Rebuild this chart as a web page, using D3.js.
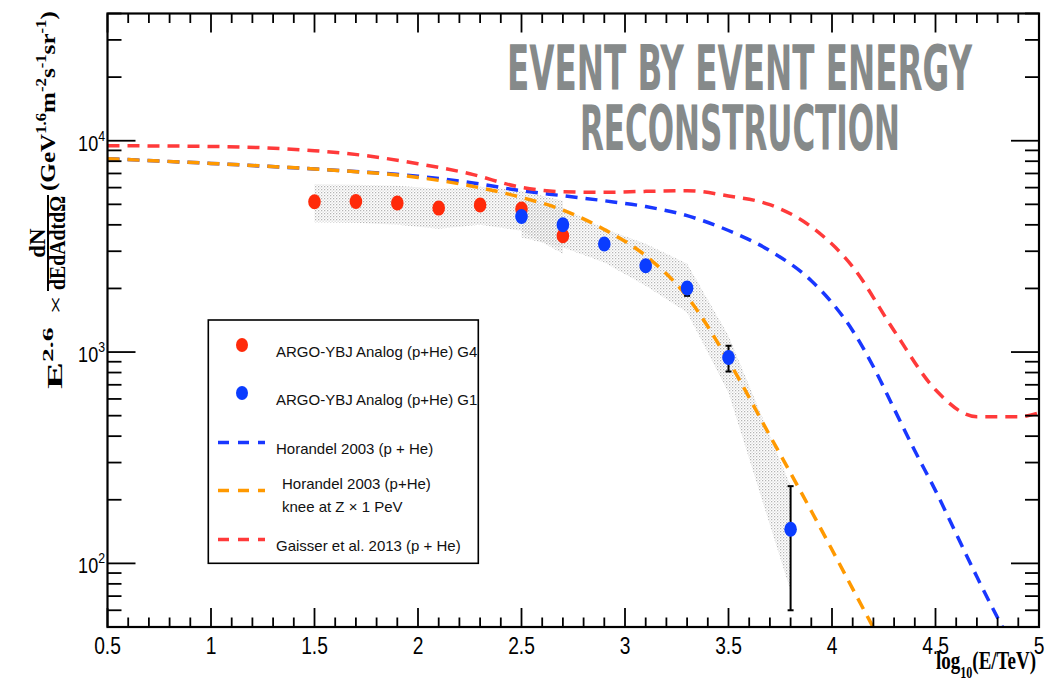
<!DOCTYPE html>
<html lang="en">
<head>
<meta charset="UTF-8" />
<title>Event by event energy reconstruction</title>
<script src="https://cdn.jsdelivr.net/npm/d3@7"></script>
<style>
  body { margin: 0; background: #fff; }
  svg { display: block; }
  .tick-x { font-family: "Liberation Sans", Arial, sans-serif; font-size: 24px; fill: #000; }
  .tick-y { font-family: "Liberation Sans", Arial, sans-serif; font-size: 22px; fill: #000; }
  .serif { font-family: "Liberation Serif", "Times New Roman", serif; font-weight: bold; fill: #000; }
  .leg { font-family: "Liberation Sans", Arial, sans-serif; font-size: 15px; fill: #111; }
  .title { font-family: "Liberation Sans Narrow", "DejaVu Sans Condensed", sans-serif; font-weight: bold; font-size: 62px; fill: #868a8a; }
</style>
</head>
<body>
<div id="chart"></div>
<script>
// ---- data (x = log10(E/TeV), y = E^2.6 flux) ----
const g4Energy = [1.5, 1.7, 1.9, 2.1, 2.3, 2.5, 2.7];
const g4Flux = [5143, 5160, 5072, 4800, 4962, 4749, 3551];
const g4BandUp = [6226, 6193, 6125, 5926, 6059, 5799, 5200];
const g4BandLow = [4115, 4092, 4004, 3832, 4004, 3750, 2919];

const g1Energy = [2.5, 2.7, 2.9, 3.1, 3.3, 3.5, 3.8];
const g1Flux = [4382, 4004, 3244, 2561, 2009, 942, 145];
const g1ErrUp = [null, null, null, null, 2128, 1071, 232];
const g1ErrLow = [null, null, null, null, 1845, 809, 60];
const g1BandUp = [5316, 4818, 3832, 3254, 2617, 1194, 233];
const g1BandLow = [3486, 3126, 2655, 2060, 1539, 642, 74];

const horandelE = [0.5, 1.0, 1.5, 2.0, 2.25, 2.5, 2.7, 2.9, 3.1, 3.3, 3.5, 3.7, 3.9, 4.0, 4.1, 4.2, 4.3, 4.4, 4.5, 4.6, 4.7, 4.8, 4.9];
const horandelFlux = [8219, 7808, 7346, 6792, 6348, 5800, 5491, 5200, 4880, 4420, 3760, 3016, 2175, 1712, 1262, 852, 539, 341, 221, 138, 86.4, 55.3, 36.5];

const kneeE = [0.5, 1.0, 1.5, 2.0, 2.25, 2.5, 2.7, 2.9, 3.1, 3.3, 3.5, 3.7, 3.9, 4.1, 4.3];
const kneeFlux = [8219, 7808, 7346, 6704, 6124, 5391, 4699, 3804, 2856, 1831, 910, 402, 177, 75.8, 32.4];

const gaisserE = [0.5, 1.0, 1.5, 1.75, 2.0, 2.25, 2.5, 2.7, 2.9, 3.1, 3.3, 3.5, 3.7, 3.9, 4.1, 4.3, 4.5, 4.7, 4.9, 5.0];
const gaisserFlux = [9470, 9398, 8969, 8492, 7783, 6980, 6012, 5737, 5700, 5760, 5800, 5480, 4979, 3917, 2533, 1262, 663, 494, 494, 516];

const xTicksMajor = [0.5, 1, 1.5, 2, 2.5, 3, 3.5, 4, 4.5, 5];
const yTicksMajor = [100, 1000, 10000];
const yExp = {100: "2", 1000: "3", 10000: "4"};

const legendItems = [
  {kind: "dot", color: "#ff2a0a", lines: ["ARGO-YBJ Analog (p+He) G4"]},
  {kind: "dot", color: "#0a3cff", lines: ["ARGO-YBJ Analog (p+He) G1"]},
  {kind: "dash", color: "#1937ff", lines: ["Horandel 2003 (p + He)"]},
  {kind: "dash", color: "#ff9900", lines: ["Horandel 2003 (p+He)", "knee at Z \u00d7 1 PeV"]},
  {kind: "dash", color: "#ff3a3a", lines: ["Gaisser et al. 2013 (p + He)"]}
];

// ---- setup ----
const W = 1064, H = 682;
const x = d3.scaleLinear().domain([0.5, 5]).range([107.5, 1039]);
const y = d3.scaleLog().domain([50, 40000]).range([627, 13.5]);
const [x0, x1] = x.range();
const [y0, y1] = y.range();

const svg = d3.select("#chart").append("svg").attr("width", W).attr("height", H);
const defs = svg.append("defs");
defs.append("clipPath").attr("id", "frame")
  .append("rect").attr("x", x0).attr("y", y1).attr("width", x1 - x0).attr("height", y0 - y1);
const pat = defs.append("pattern").attr("id", "dots")
  .attr("patternUnits", "userSpaceOnUse").attr("width", 3).attr("height", 3);
pat.append("rect").attr("x", 0).attr("y", 0).attr("width", 1.3).attr("height", 1.3).attr("fill", "#b4b4b4");
pat.append("rect").attr("x", 1.5).attr("y", 1.5).attr("width", 1.3).attr("height", 1.3).attr("fill", "#d6d6d6");

const plot = svg.append("g").attr("clip-path", "url(#frame)");

// systematic bands
const band = d3.area().x(d => x(d.e)).y0(d => y(d.lo)).y1(d => y(d.hi));
[[g4Energy, g4BandUp, g4BandLow], [g1Energy, g1BandUp, g1BandLow]].forEach(([es, up, lo]) => {
  plot.append("path")
    .datum(es.map((e, i) => ({e: e, hi: up[i], lo: lo[i]})))
    .attr("d", band)
    .attr("fill", "url(#dots)");
});

// model curves
const line = d3.line().x(d => x(d[0])).y(d => y(d[1])).curve(d3.curveMonotoneX);
[[horandelE, horandelFlux, "#1937ff"], [kneeE, kneeFlux, "#ff9900"], [gaisserE, gaisserFlux, "#ff3a3a"]]
  .forEach(([es, fs, c]) => {
    plot.append("path")
      .datum(es.map((e, i) => [e, fs[i]]))
      .attr("d", line)
      .attr("fill", "none")
      .attr("stroke", c)
      .attr("stroke-width", 3.5)
      .attr("stroke-dasharray", "12 8");
  });

// error bars (G1)
g1Energy.forEach((e, i) => {
  if (g1ErrUp[i] == null) return;
  const g = plot.append("g").attr("stroke", "#000").attr("stroke-width", 2);
  g.append("line").attr("x1", x(e)).attr("x2", x(e)).attr("y1", y(g1ErrUp[i])).attr("y2", y(g1ErrLow[i]));
  [g1ErrUp[i], g1ErrLow[i]].forEach(v => {
    g.append("line").attr("x1", x(e) - 3).attr("x2", x(e) + 3).attr("y1", y(v)).attr("y2", y(v));
  });
});

// points
plot.selectAll(".g4").data(g4Energy).enter().append("ellipse")
  .attr("cx", d => x(d)).attr("cy", (d, i) => y(g4Flux[i]))
  .attr("rx", 6.3).attr("ry", 7.5).attr("fill", "#ff2a0a");
plot.selectAll(".g1").data(g1Energy).enter().append("ellipse")
  .attr("cx", d => x(d)).attr("cy", (d, i) => y(g1Flux[i]))
  .attr("rx", 6.3).attr("ry", 7.5).attr("fill", "#0a3cff");

// ---- frame and ticks ----
const minorX = d3.range(5, 51).map(d => d / 10).filter(d => !xTicksMajor.includes(d));
const minorY = [];
[10, 100, 1000, 10000].forEach(dec => d3.range(2, 10).forEach(k => {
  const v = dec * k;
  if (v >= 50 && v <= 40000) minorY.push(v);
}));

const axes = svg.append("g").attr("stroke", "#000").attr("stroke-width", 1.8);
axes.append("rect").attr("x", x0).attr("y", y1).attr("width", x1 - x0).attr("height", y0 - y1)
  .attr("fill", "none").attr("stroke-width", 2.2);

function xt(v, len) {
  axes.append("line").attr("x1", x(v)).attr("x2", x(v)).attr("y1", y0).attr("y2", y0 - len);
  axes.append("line").attr("x1", x(v)).attr("x2", x(v)).attr("y1", y1).attr("y2", y1 + len);
}
function yt(v, len) {
  axes.append("line").attr("x1", x0).attr("x2", x0 + len).attr("y1", y(v)).attr("y2", y(v));
  axes.append("line").attr("x1", x1).attr("x2", x1 - len).attr("y1", y(v)).attr("y2", y(v));
}
xTicksMajor.forEach(v => xt(v, 19));
minorX.forEach(v => xt(v, 9.5));
yTicksMajor.forEach(v => yt(v, 28));
minorY.forEach(v => yt(v, 14));

// tick labels (squeezed like the narrow font of the original)
svg.append("g").selectAll("text").data(xTicksMajor).enter().append("text")
  .attr("class", "tick-x")
  .attr("transform", d => `translate(${x(d)},654) scale(0.8,1)`)
  .attr("text-anchor", "middle").text(d => d);

const yl = svg.append("g").selectAll("text").data(yTicksMajor).enter().append("text")
  .attr("class", "tick-y")
  .attr("transform", d => `translate(105,${y(d) + 10}) scale(0.82,1)`)
  .attr("text-anchor", "end");
yl.append("tspan").text("10");
yl.append("tspan").attr("dy", -10).attr("font-size", 15).text(d => yExp[d]);

// fit a group horizontally (in its own frame) to a target length
function fit(g, target) {
  const b = g.node().getBBox();
  const s = target / b.width;
  g.attr("transform", `translate(${b.x},0) scale(${s},1) translate(${-b.x},0)`);
}

// x axis title
const xTitle = svg.append("g");
const xt1 = xTitle.append("text").attr("class", "serif").attr("x", 936).attr("y", 669).attr("font-size", 25);
xt1.append("tspan").text("log");
xt1.append("tspan").attr("dy", 9).attr("font-size", 16).text("10");
xt1.append("tspan").attr("dy", -9).text("(E/TeV)");
fit(xTitle, 100);

// y axis title (rotated)
const yTitle = svg.append("g").attr("transform", "rotate(-90)");
const ta = yTitle.append("g");
const tA = ta.append("text").attr("class", "serif").attr("x", -389).attr("y", 62).attr("font-size", 22);
tA.append("tspan").text("E");
tA.append("tspan").attr("dy", -9).attr("font-size", 15).text("2.6");
tA.append("tspan").attr("dy", 9).attr("dx", 7).attr("font-weight", "normal").attr("font-size", 19).text("\u00d7");
fit(ta, 94);

yTitle.append("line").attr("x1", -291).attr("x2", -195).attr("y1", 48).attr("y2", 48)
  .attr("stroke", "#000").attr("stroke-width", 2);
yTitle.append("text").attr("class", "serif").attr("x", -243).attr("y", 44.5).attr("font-size", 23)
  .attr("text-anchor", "middle").text("dN");
yTitle.append("text").attr("class", "serif").attr("x", -290).attr("y", 64.5).attr("font-size", 23)
  .attr("textLength", 94).attr("lengthAdjust", "spacingAndGlyphs").text("dEdAdtd\u03a9");

const tc = yTitle.append("g");
const tC = tc.append("text").attr("class", "serif").attr("x", -191).attr("y", 55).attr("font-size", 21);
tC.append("tspan").text("(GeV");
[["1.6", "m"], ["-2", "s"], ["-1", "sr"], ["-1", ")"]].forEach(([s, b]) => {
  tC.append("tspan").attr("dy", -9).attr("font-size", 14).text(s);
  tC.append("tspan").attr("dy", 9).text(b);
});
fit(tc, 180);

// ---- title ----
svg.append("text").attr("class", "title").attr("x", 507).attr("y", 90)
  .attr("textLength", 465).attr("lengthAdjust", "spacingAndGlyphs").text("EVENT BY EVENT ENERGY");
svg.append("text").attr("class", "title").attr("x", 580).attr("y", 150)
  .attr("textLength", 320).attr("lengthAdjust", "spacingAndGlyphs").text("RECONSTRUCTION");

// ---- legend ----
const leg = svg.append("g");
leg.append("rect").attr("x", 208.3).attr("y", 320).attr("width", 270).attr("height", 243.3)
  .attr("fill", "#fff").attr("stroke", "#000").attr("stroke-width", 1.6);
const rowY = [345, 393, 442.5, 490.5, 539.5];
legendItems.forEach((it, i) => {
  const cy = rowY[i];
  if (it.kind === "dot") {
    leg.append("ellipse").attr("cx", 242).attr("cy", cy).attr("rx", 6).attr("ry", 7).attr("fill", it.color);
  } else {
    leg.append("line").attr("x1", 218).attr("x2", 265).attr("y1", cy).attr("y2", cy)
      .attr("stroke", it.color).attr("stroke-width", 3.5).attr("stroke-dasharray", "11 9");
  }
  const tx = it.lines.length > 1 ? 282 : 276;
  const base = it.lines.length > 1 ? cy - 1.5 : cy + 11.5;
  it.lines.forEach((t, j) => {
    leg.append("text").attr("class", "leg").attr("x", tx).attr("y", base + j * 23).text(t);
  });
});
</script>
</body>
</html>
